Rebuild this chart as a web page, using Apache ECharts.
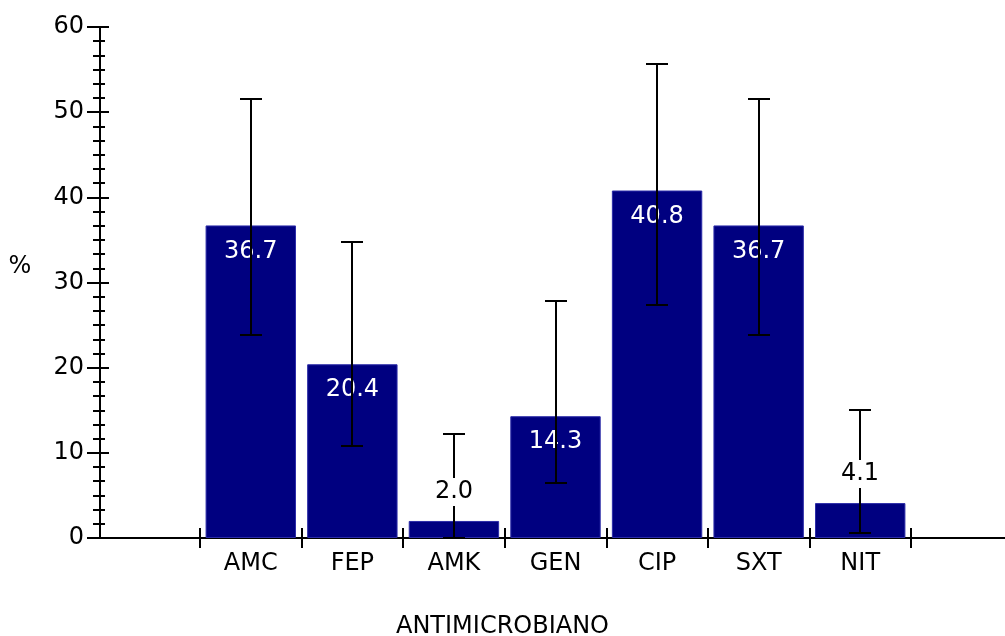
<!DOCTYPE html>
<html>
<head>
<meta charset="utf-8">
<script src="https://cdn.jsdelivr.net/npm/echarts@6/dist/echarts.min.js"></script>
<style>
  html, body { margin: 0; padding: 0; background: #fff; }
  #chart { width: 1005px; height: 636px; }
</style>
</head>
<body>
<div id="chart"></div>
<script>
// Resistance by antimicrobial agent (%), with confidence intervals
const categories = ['AMC', 'FEP', 'AMK', 'GEN', 'CIP', 'SXT', 'NIT'];
const percent    = [36.7, 20.4, 2.0, 14.3, 40.8, 36.7, 4.1];
const ciLow      = [23.8, 10.8, 0.0, 6.4, 27.3, 23.8, 0.6];
const ciHigh     = [51.5, 34.7, 12.2, 27.8, 55.6, 51.5, 15.0];
const yTicks     = { min: 0, max: 60, step: 10 };

const FONT = 'DejaVu Sans';
const FONT_SIZE = 24;
const NAVY = '#000080';

const chart = echarts.init(document.getElementById('chart'), null, { renderer: 'canvas' });

const valueAxisBase = {
  type: 'value',
  min: yTicks.min,
  max: yTicks.max,
  interval: yTicks.step,
  splitLine: { show: false },
  position: 'left'
};

chart.setOption({
  animation: false,
  backgroundColor: '#ffffff',
  grid: [
    { left: 100, right: 0, top: 27, bottom: 98 },
    { left: 200, right: 94, top: 27, bottom: 98 }
  ],
  xAxis: [
    {
      gridIndex: 0, type: 'value', min: 0, max: 1, position: 'bottom',
      axisLine: { show: true, lineStyle: { color: '#000', width: 2 } },
      axisTick: { show: false }, axisLabel: { show: false }, splitLine: { show: false }
    },
    {
      gridIndex: 1, type: 'category', data: categories, position: 'bottom',
      axisLine: { show: false },
      axisTick: { show: true, length: 10, lineStyle: { color: '#000', width: 2 } },
      axisLabel: { color: '#000', fontFamily: FONT, fontSize: FONT_SIZE, margin: 14 }
    },
    {
      gridIndex: 1, type: 'category', data: categories, position: 'bottom',
      axisLine: { show: false },
      axisTick: { show: true, inside: true, length: 10, lineStyle: { color: '#000', width: 2 } },
      axisLabel: { show: false }
    }
  ],
  yAxis: [
    Object.assign({}, valueAxisBase, {
      gridIndex: 0,
      axisLine: { show: true, lineStyle: { color: '#000', width: 2 } },
      axisTick: { show: true, length: 13, lineStyle: { color: '#000', width: 2 } },
      minorTick: { show: true, splitNumber: 6, length: 7, lineStyle: { color: '#000', width: 2 } },
      axisLabel: { color: '#000', fontFamily: FONT, fontSize: FONT_SIZE, margin: 16 }
    }),
    Object.assign({}, valueAxisBase, {
      gridIndex: 0,
      axisLine: { show: false },
      axisTick: { show: true, inside: true, length: 9, lineStyle: { color: '#000', width: 2 } },
      minorTick: { show: true, splitNumber: 6, length: 5, lineStyle: { color: '#000', width: 2 } },
      axisLabel: { show: false }
    }),
    Object.assign({}, valueAxisBase, { gridIndex: 1, show: false })
  ],
  graphic: [
    {
      type: 'text', left: 'center', top: 615,
      style: { text: 'ANTIMICROBIANO', fill: '#000', font: FONT_SIZE + 'px "' + FONT + '"' }
    },
    {
      type: 'text', x: 20, y: 267,
      style: { text: '%', fill: '#000', font: FONT_SIZE + 'px "' + FONT + '"', align: 'center', verticalAlign: 'middle' }
    }
  ],
  series: [
    {
      type: 'bar',
      xAxisIndex: 1, yAxisIndex: 2,
      data: percent,
      barCategoryGap: '11%',
      z: 2,
      itemStyle: { color: NAVY, borderColor: '#2c2ca8', borderWidth: 1 },
      label: {
        show: true,
        position: 'insideTop',
        distance: 14,
        color: '#fff',
        fontFamily: FONT,
        fontSize: FONT_SIZE,
        formatter: p => (p.value >= 10 ? p.value.toFixed(1) : '')
      }
    },
    {
      type: 'custom',
      xAxisIndex: 1, yAxisIndex: 2,
      z: 3,
      data: categories.map((c, i) => [i, ciLow[i], ciHigh[i], percent[i]]),
      renderItem: function (params, api) {
        const i = api.value(0);
        const lo = api.coord([i, api.value(1)]);
        const hi = api.coord([i, api.value(2)]);
        const top = api.coord([i, api.value(3)]);
        const x = Math.round(hi[0]);
        const yHi = Math.round(hi[1]);
        const yLo = Math.round(lo[1]);
        const cap = 11;
        const style = { stroke: '#000', lineWidth: 2 };
        const children = [
          { type: 'line', shape: { x1: x, y1: yHi, x2: x, y2: yLo }, style: style },
          { type: 'line', shape: { x1: x - cap, y1: yHi, x2: x + cap, y2: yHi }, style: style },
          { type: 'line', shape: { x1: x - cap, y1: yLo, x2: x + cap, y2: yLo }, style: style }
        ];
        const v = api.value(3);
        if (v < 10) {
          // short bars carry their value above the bar, on a white patch over the whisker
          children.push({
            type: 'text',
            z2: 10,
            x: x, y: top[1] - 15,
            style: {
              text: v.toFixed(1),
              fill: '#000',
              font: FONT_SIZE + 'px "' + FONT + '"',
              align: 'center',
              verticalAlign: 'bottom',
              backgroundColor: '#fff',
              padding: [2, 3, 2, 3]
            }
          });
        }
        return { type: 'group', children: children };
      }
    }
  ]
});
</script>
</body>
</html>
